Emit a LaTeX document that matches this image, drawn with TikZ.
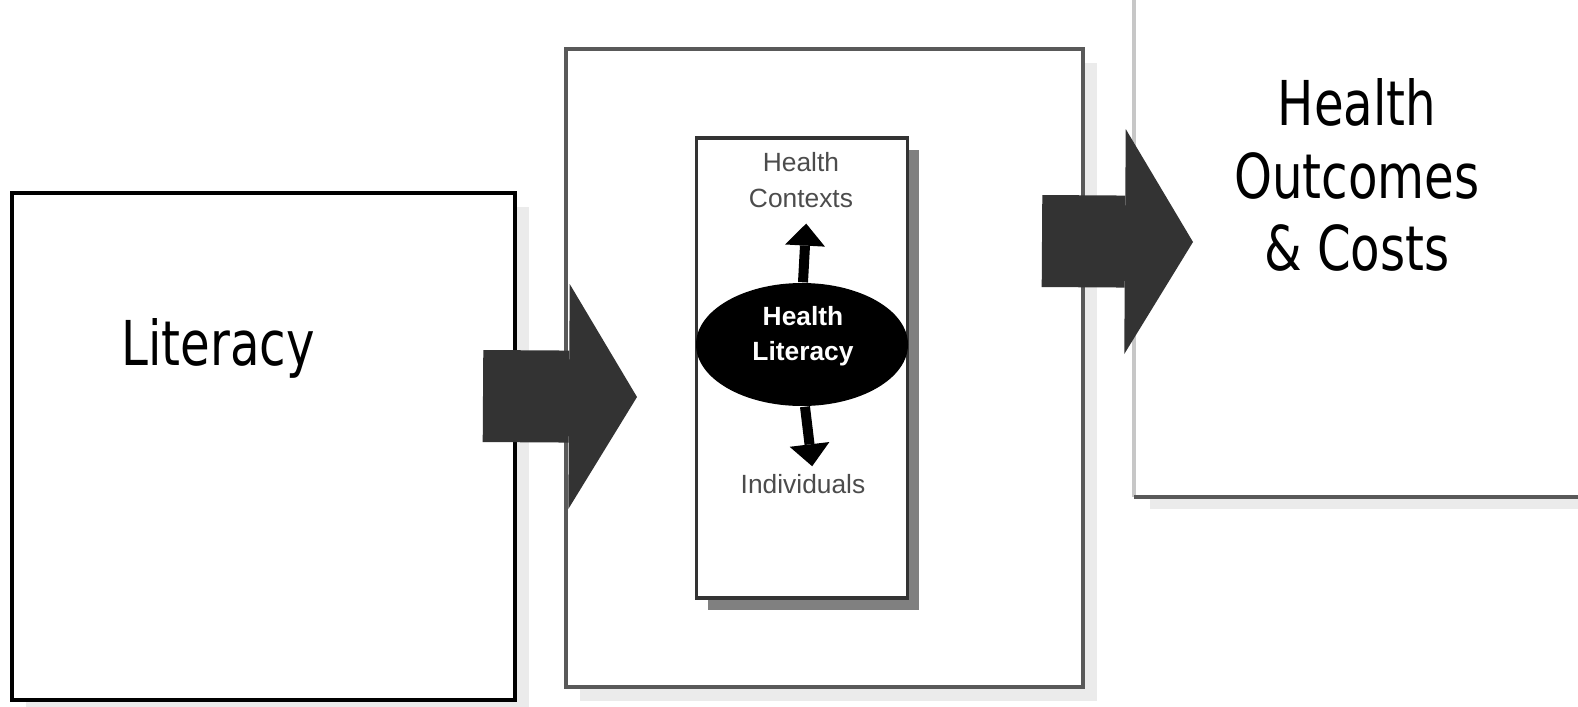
\documentclass[tikz,border=0pt]{standalone}
\usepackage{fontspec}
\setmainfont{DejaVu Sans}[FakeStretch=0.78]
\newfontfamily\smallfont{Liberation Sans}
\usetikzlibrary{arrows.meta,shapes.geometric,shadows}

\begin{document}
\begin{tikzpicture}
  [panel/.style={draw, fill=white, line width=1pt, inner sep=0pt},
   panelshadow/.style={drop shadow={shadow xshift=0.14cm, shadow yshift=-0.14cm, fill=black!8, opacity=1}},
   biglabel/.style={inner sep=0pt, align=center, font=\fontsize{17.6}{20.6}\selectfont},
   smalllabel/.style={inner sep=0pt, align=center, text=black!70, font=\smallfont\fontsize{7.5}{10.2}\selectfont},
   blockarrow/.style={line width=0.92cm, draw=black!80, -{Triangle[width=2.25cm, length=0.68cm, line width=0pt]}},
   smallarrow/.style={line width=0.1cm, -{Triangle[width=0.4cm, length=0.22cm, line width=0pt]}},
  ]
  \useasboundingbox (0,0) rectangle (15.78,7.06);
  \clip (0,0) rectangle (15.78,7.06);

  % Outer panels
  \node[panel, panelshadow, minimum width=5.03cm, minimum height=5.07cm] (lit) at (2.635,2.595) {};
  \node[panel, panelshadow, draw=black!65, minimum width=5.17cm, minimum height=6.38cm] (mid) at (8.245,3.38) {};
  \node[panel, panelshadow, draw=none, minimum width=4.84cm, minimum height=5.19cm] (out) at (13.78,4.705) {};
  \draw[black!22, line width=1pt] (out.north west) -- (out.south west);
  \draw[black!65, line width=1pt] (out.south west) -- (out.south east);

  \node[biglabel, anchor=base] (littext) at (2.18,3.41) {Literacy};
  \node[biglabel, anchor=north] (outtext) at (13.57,6.28) {Health\\Outcomes\\\& Costs};

  % Inner column
  \node[panel, draw=black!80, minimum width=2.11cm, minimum height=4.60cm,
    drop shadow={shadow xshift=0.11cm, shadow yshift=-0.12cm, fill=black!50, opacity=1}] (inner) at (8.02,3.38) {};
  \node[ellipse, fill=black, minimum width=2.12cm, minimum height=1.23cm, inner sep=0pt] (hl) at (8.02,3.615) {};
  \node[smalllabel, text=white, font=\smallfont\bfseries\fontsize{7.5}{10}\selectfont, anchor=north] (hltext) at (8.03,4.0) {Health\\Literacy};
  \node[smalllabel, anchor=north] (ctx) at (8.01,5.54) {Health\\Contexts};
  \node[smalllabel, anchor=base] (ind) at (8.03,2.13) {Individuals};

  \draw[smallarrow, shorten >=0.15cm] ([xshift=0.01cm]hl.north) -- ([xshift=0.06cm]ctx.south);
  \draw[smallarrow, shorten >=0.07cm] ([xshift=0.03cm]hl.south) -- ([xshift=0.1cm]ind.north);

  % Block arrows between panels
  \coordinate (litout) at (4.83,3.10);
  \coordinate (midin) at (6.37,3.09);
  \coordinate (midout) at (10.42,4.65);
  \coordinate (outin) at (11.93,4.64);
  \draw[blockarrow] (litout) -- (midin);
  \draw[blockarrow] (midout) -- (outin);
\end{tikzpicture}
\end{document}
